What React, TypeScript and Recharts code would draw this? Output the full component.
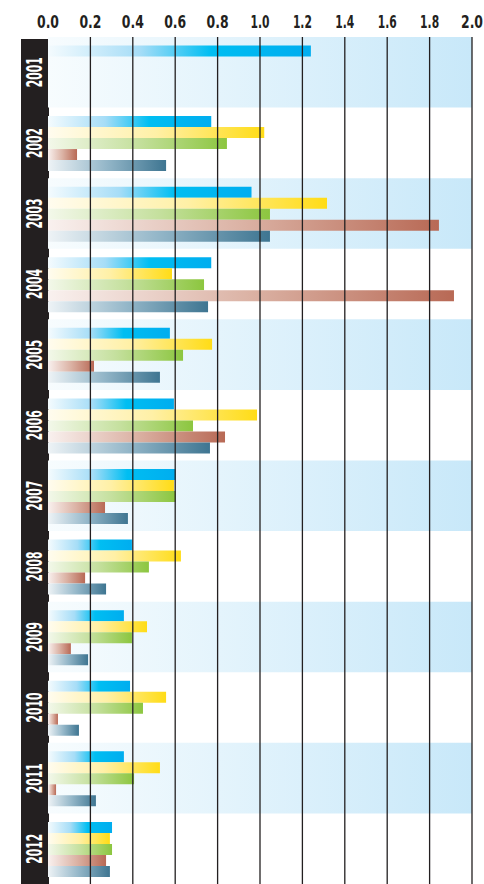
import React from 'react';
import { BarChart, Bar, XAxis, YAxis, ReferenceArea, ReferenceLine } from 'recharts';

const years = ['2001', '2002', '2003', '2004', '2005', '2006', '2007', '2008', '2009', '2010', '2011', '2012'];
const blueSeries = [1.24, 0.77, 0.96, 0.77, 0.575, 0.594, 0.602, 0.396, 0.358, 0.387, 0.358, 0.302];
const yellowSeries = [null, 1.02, 1.316, 0.585, 0.774, 0.986, 0.594, 0.627, 0.467, 0.557, 0.528, 0.292];
const greenSeries = [null, 0.844, 1.047, 0.736, 0.637, 0.684, 0.602, 0.476, 0.396, 0.448, 0.406, 0.302];
const brownSeries = [null, 0.137, 1.844, 1.915, 0.217, 0.835, 0.269, 0.175, 0.108, 0.047, 0.038, 0.274];
const steelSeries = [null, 0.557, 1.047, 0.755, 0.528, 0.764, 0.377, 0.274, 0.189, 0.146, 0.226, 0.292];
const xTicks = [0, 0.2, 0.4, 0.6, 0.8, 1.0, 1.2, 1.4, 1.6, 1.8, 2.0];
const gridTicks = [0.2, 0.4, 0.6, 0.8, 1.0, 1.2, 1.4, 1.6, 1.8, 2.0];
const bandYears = ['2001', '2003', '2005', '2007', '2009', '2011'];

const data = years.map((y, i) => ({
  year: y,
  blue: blueSeries[i],
  yellow: yellowSeries[i],
  green: greenSeries[i],
  brown: brownSeries[i],
  steel: steelSeries[i],
}));

const FONT = "'Liberation Sans Narrow', 'DejaVu Sans Condensed', 'Arial Narrow', sans-serif";
const INK = '#231f20';

const XTick = (props: any) => {
  const { x, y, payload } = props;
  const label = Number(payload.value).toFixed(1);
  const len = label.startsWith('1') ? 19 : 22;
  return (
    <text
      x={x}
      y={y}
      dy={-9}
      textAnchor="middle"
      fontFamily={FONT}
      fontWeight="bold"
      fontSize={18}
      fill={INK}
      textLength={len}
      lengthAdjust="spacingAndGlyphs"
    >
      {label}
    </text>
  );
};

const YTick = (props: any) => {
  const { x, y, payload } = props;
  const cx = x - 13;
  return (
    <text
      x={cx}
      y={y}
      transform={`rotate(-90, ${cx}, ${y})`}
      textAnchor="middle"
      dominantBaseline="central"
      fontFamily={FONT}
      fontWeight="bold"
      fontSize={21}
      fill="#ffffff"
      textLength={30}
      lengthAdjust="spacingAndGlyphs"
    >
      {payload.value}
    </text>
  );
};

export default function App() {
  return (
    <div style={{ position: 'absolute', left: 0, top: 0, width: 484, height: 884, background: '#ffffff', overflow: 'hidden' }}>
      <div style={{ position: 'absolute', left: 21, top: 39, width: 28, height: 845, background: INK }} />
      <div style={{ position: 'absolute', left: 0, top: 0 }}>
        <BarChart
          width={484}
          height={884}
          data={data}
          layout="vertical"
          margin={{ top: 0, right: 12, left: 0, bottom: 0 }}
          barCategoryGap="12%"
          barGap={0}
        >
          <defs>
            <linearGradient id="gBand" x1="0" y1="0" x2="1" y2="0">
              <stop offset="0" stopColor="#f7fcfe" />
              <stop offset="1" stopColor="#c8e8f9" />
            </linearGradient>
            <linearGradient id="gBlue" x1="0" y1="0" x2="1" y2="0">
              <stop offset="0" stopColor="#f4fbfe" />
              <stop offset="0.35" stopColor="#a6ddf7" />
              <stop offset="0.62" stopColor="#00bef2" />
              <stop offset="1" stopColor="#00adef" />
            </linearGradient>
            <linearGradient id="gYellow" x1="0" y1="0" x2="1" y2="0">
              <stop offset="0" stopColor="#fffcef" />
              <stop offset="0.5" stopColor="#fff0a6" />
              <stop offset="1" stopColor="#ffdc16" />
            </linearGradient>
            <linearGradient id="gGreen" x1="0" y1="0" x2="1" y2="0">
              <stop offset="0" stopColor="#f3f8ea" />
              <stop offset="0.5" stopColor="#c5e09e" />
              <stop offset="1" stopColor="#8cc63f" />
            </linearGradient>
            <linearGradient id="gBrown" x1="0" y1="0" x2="1" y2="0">
              <stop offset="0" stopColor="#f9f1ef" />
              <stop offset="0.5" stopColor="#dbb2a4" />
              <stop offset="1" stopColor="#b86955" />
            </linearGradient>
            <linearGradient id="gSteel" x1="0" y1="0" x2="1" y2="0">
              <stop offset="0" stopColor="#eef3f6" />
              <stop offset="0.5" stopColor="#93b6c8" />
              <stop offset="1" stopColor="#3e7591" />
            </linearGradient>
          </defs>
          <XAxis
            type="number"
            orientation="top"
            domain={[0, 2]}
            ticks={xTicks}
            axisLine={false}
            tickLine={false}
            tickSize={0}
            tickMargin={0}
            height={37}
            tick={<XTick />}
            interval={0}
          />
          <YAxis
            type="category"
            dataKey="year"
            width={48}
            axisLine={false}
            tickLine={false}
            tickSize={0}
            tickMargin={0}
            tick={<YTick />}
            interval={0}
          />
          {bandYears.map((y) => (
            <ReferenceArea key={y} y1={y} y2={y} fill="url(#gBand)" fillOpacity={1} stroke="none" ifOverflow="extendDomain" />
          ))}
          {gridTicks.map((t) => (
            <ReferenceLine key={t} x={t} stroke={INK} strokeWidth={1.3} />
          ))}
          <Bar dataKey="blue" fill="url(#gBlue)" isAnimationActive={false} />
          <Bar dataKey="yellow" fill="url(#gYellow)" isAnimationActive={false} />
          <Bar dataKey="green" fill="url(#gGreen)" isAnimationActive={false} />
          <Bar dataKey="brown" fill="url(#gBrown)" isAnimationActive={false} />
          <Bar dataKey="steel" fill="url(#gSteel)" isAnimationActive={false} />
        </BarChart>
      </div>
    </div>
  );
}
